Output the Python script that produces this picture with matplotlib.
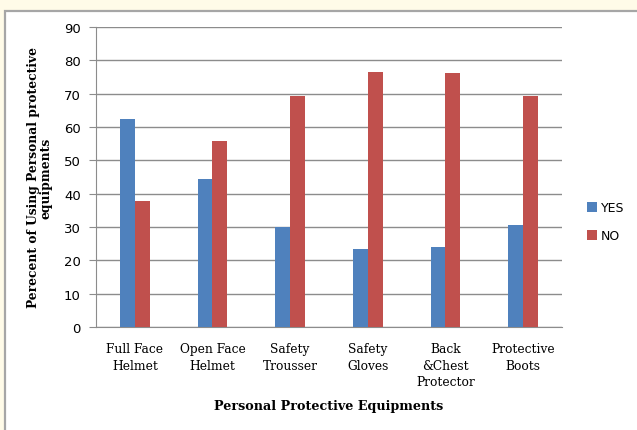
import numpy as np
import matplotlib.pyplot as plt
from matplotlib.patches import Rectangle

categories = ["Full Face\nHelmet", "Open Face\nHelmet", "Safety\nTrousser",
              "Safety\nGloves", "Back\n&Chest\nProtector", "Protective\nBoots"]
yes_vals = [62.3, 44.5, 30.1, 23.5, 23.9, 30.6]
no_vals = [37.8, 55.7, 69.3, 76.6, 76.3, 69.3]

W, H = 637, 431
fig = plt.figure(figsize=(W / 100, H / 100), dpi=100)
fig.patch.set_facecolor("#FFFBE8")

# white panel with grey frame (runs off the right and bottom edges)
fig.patches.append(Rectangle((5 / W, -0.1), 1.2, (H - 12) / H + 0.1,
                             transform=fig.transFigure, facecolor="white",
                             edgecolor="#A6A6A6", linewidth=1.6, zorder=-5))

ax = fig.add_axes([96 / W, (H - 328) / H, (562 - 96) / W, 300 / H])
ax.set_facecolor("white")
ax.set_zorder(2)

x = np.arange(len(categories))
w = 0.19
ax.bar(x - w / 2, yes_vals, w, color="#4F81BD", label="YES", zorder=3)
ax.bar(x + w / 2, no_vals, w, color="#C0504D", label="NO", zorder=3)

ax.set_xlim(-0.5, len(categories) - 0.5)
ax.set_ylim(0, 90)
ax.set_yticks(range(0, 91, 10))
ax.grid(axis="y", color="#8C8C8C", linewidth=1.0, zorder=0)
ax.set_axisbelow(True)

for s in ["top", "right"]:
    ax.spines[s].set_visible(False)
ax.spines["left"].set_color("#8C8C8C")
ax.spines["bottom"].set_color("#8C8C8C")
ax.tick_params(axis="y", length=5, color="#8C8C8C", labelsize=9.5, pad=6)
ax.tick_params(axis="x", length=0, pad=11)

ax.set_xticks(x)
ax.set_xticklabels(categories, family="DejaVu Serif", fontsize=8.8, linespacing=1.35)

ax.set_xlabel("Personal Protective Equipments", family="DejaVu Serif",
              fontweight="bold", fontsize=9.2, labelpad=8)
ax.set_ylabel("Perecent of Using Personal protective\nequipments", family="DejaVu Serif",
              fontweight="bold", fontsize=8.8, labelpad=8, linespacing=1.0)

ax.legend(loc="center left", bbox_to_anchor=(1.03, 0.35), frameon=False,
          fontsize=9, handlelength=0.8, handleheight=0.8, handletextpad=0.3,
          labelspacing=1.2)

fig.savefig("out.png", dpi=100, facecolor=fig.get_facecolor())
